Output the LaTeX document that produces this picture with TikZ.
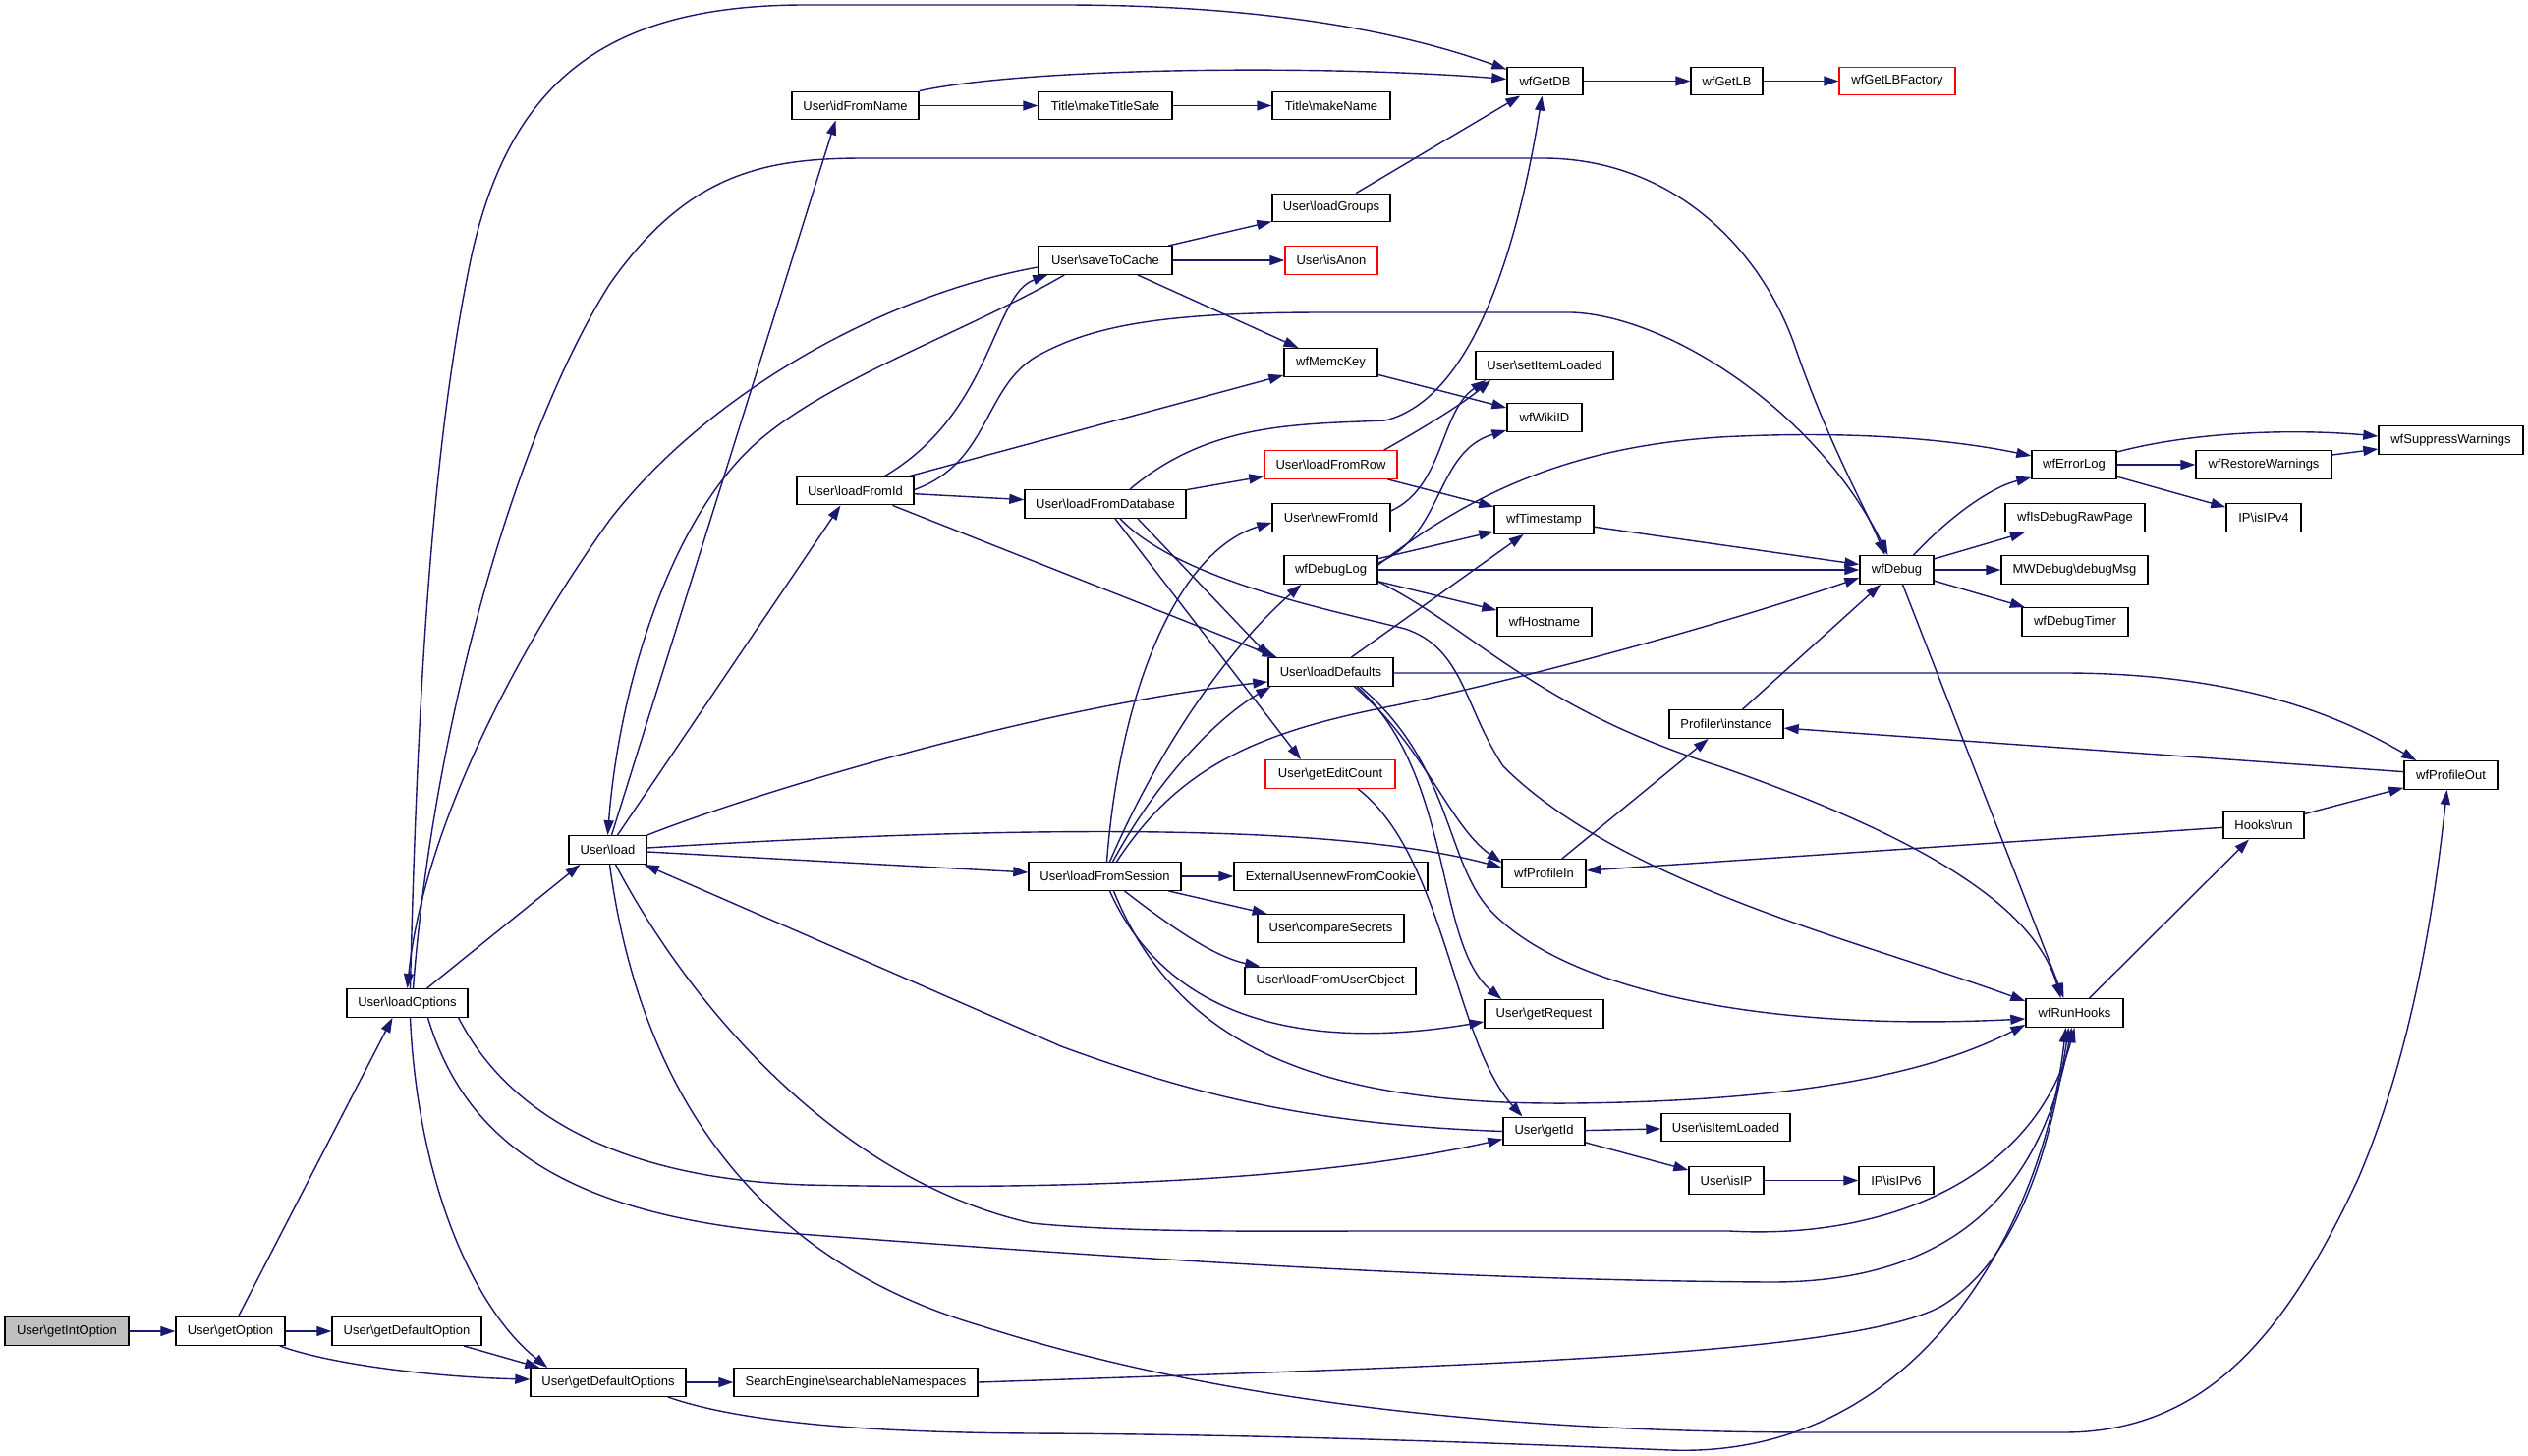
\documentclass[tikz,border=0pt]{standalone}
\usepackage{fontspec}
\setmainfont{Liberation Sans}
\usetikzlibrary{arrows.meta}
\definecolor{edgeblue}{HTML}{191970}
\newcommand{\bsl}{\textbackslash{}}
\begin{document}
\begin{tikzpicture}[x=1pt,y=-1pt,
  nbox/.style={draw=black, line width=1.4pt, fill=white, minimum height=28.5pt, inner sep=0pt, font=\fontsize{13}{15}\selectfont, text=black},
  redbox/.style={nbox, draw=red},
  rootbox/.style={nbox, fill=black!25},
  edg/.style={draw=edgeblue, line width=1.4pt, -{Triangle[length=15pt,width=10pt]}}]
\fill[white] (0,0) rectangle (2573,1482);
\useasboundingbox (0,0) rectangle (2573,1482);
% nodes
\node[rootbox,minimum width=126pt] (gio) at (68,1355) {User\bsl getIntOption};
\node[nbox,minimum width=111pt] (go) at (234.5,1355) {User\bsl getOption};
\node[nbox,minimum width=152pt] (gdo) at (414,1355) {User\bsl getDefaultOption};
\node[nbox,minimum width=158pt] (gdos) at (619,1407) {User\bsl getDefaultOptions};
\node[nbox,minimum width=248pt] (sns) at (871,1407) {SearchEngine\bsl searchableNamespaces};
\node[nbox,minimum width=123pt] (lo) at (414.5,1021) {User\bsl loadOptions};
\node[nbox,minimum width=79pt] (ld) at (618.5,865) {User\bsl load};
\node[nbox,minimum width=129pt] (ifn) at (870.5,107.5) {User\bsl idFromName};
\node[nbox,minimum width=136pt] (mts) at (1125,107.5) {Title\bsl makeTitleSafe};
\node[nbox,minimum width=120pt] (mn) at (1355,107.5) {Title\bsl makeName};
\node[nbox,minimum width=77pt] (db) at (1572.5,82.5) {wfGetDB};
\node[nbox,minimum width=73pt] (lb) at (1757.5,82.5) {wfGetLB};
\node[redbox,minimum width=118pt] (lbf) at (1931,82.5) {wfGetLBFactory};
\node[nbox,minimum width=120pt] (lg) at (1355,211.5) {User\bsl loadGroups};
\node[nbox,minimum width=136pt] (stc) at (1125,265) {User\bsl saveToCache};
\node[redbox,minimum width=94pt] (ia) at (1355,265) {User\bsl isAnon};
\node[nbox,minimum width=95pt] (mk) at (1354.5,369) {wfMemcKey};
\node[nbox,minimum width=140pt] (sil) at (1572,372) {User\bsl setItemLoaded};
\node[nbox,minimum width=76pt] (wid) at (1572,425) {wfWikiID};
\node[redbox,minimum width=135pt] (lfr) at (1354.5,473) {User\bsl loadFromRow};
\node[nbox,minimum width=119pt] (lfi) at (870.5,499.5) {User\bsl loadFromId};
\node[nbox,minimum width=164pt] (lfd) at (1125,513) {User\bsl loadFromDatabase};
\node[nbox,minimum width=120pt] (nfi) at (1355,527) {User\bsl newFromId};
\node[nbox,minimum width=101pt] (ts) at (1571.5,529) {wfTimestamp};
\node[nbox,minimum width=95pt] (dl) at (1354.5,580) {wfDebugLog};
\node[nbox,minimum width=96pt] (hn) at (1572,633) {wfHostname};
\node[nbox,minimum width=127pt] (ldf) at (1354.5,684) {User\bsl loadDefaults};
\node[nbox,minimum width=116pt] (pi) at (1757,737) {Profiler\bsl instance};
\node[redbox,minimum width=132pt] (gec) at (1354,788) {User\bsl getEditCount};
\node[nbox,minimum width=85pt] (pin) at (1571.5,889) {wfProfileIn};
\node[nbox,minimum width=155pt] (lfs) at (1124.5,892) {User\bsl loadFromSession};
\node[nbox,minimum width=197pt] (enc) at (1354.5,892) {ExternalUser\bsl newFromCookie};
\node[nbox,minimum width=149pt] (cs) at (1354.5,945) {User\bsl compareSecrets};
\node[nbox,minimum width=174pt] (lfuo) at (1354,998.5) {User\bsl loadFromUserObject};
\node[nbox,minimum width=121pt] (gr) at (1571.5,1032) {User\bsl getRequest};
\node[nbox,minimum width=99pt] (rh) at (2111.5,1031) {wfRunHooks};
\node[nbox,minimum width=83pt] (gid) at (1571.5,1151.5) {User\bsl getId};
\node[nbox,minimum width=131pt] (iil) at (1756.5,1147.5) {User\bsl isItemLoaded};
\node[nbox,minimum width=76pt] (iip) at (1757,1201.5) {User\bsl isIP};
\node[nbox,minimum width=76pt] (ip6) at (1930,1201.5) {IP\bsl isIPv6};
\node[nbox,minimum width=147pt] (sw) at (2494.5,448) {wfSuppressWarnings};
\node[nbox,minimum width=86pt] (el) at (2111,473) {wfErrorLog};
\node[nbox,minimum width=138pt] (rw) at (2304,473) {wfRestoreWarnings};
\node[nbox,minimum width=142pt] (idr) at (2112,527) {wfIsDebugRawPage};
\node[nbox,minimum width=76pt] (ip4) at (2304,527) {IP\bsl isIPv4};
\node[nbox,minimum width=75pt] (dbg) at (1930.5,580) {wfDebug};
\node[nbox,minimum width=149pt] (dm) at (2111.5,580) {MWDebug\bsl debugMsg};
\node[nbox,minimum width=108pt] (dt) at (2112,633) {wfDebugTimer};
\node[nbox,minimum width=95pt] (po) at (2494.5,789) {wfProfileOut};
\node[nbox,minimum width=82pt] (hr) at (2304,839.5) {Hooks\bsl run};
% edges
\draw[edg] (gio) -- (go);
\draw[edg] (go) -- (gdo);
\draw[edg] ([xshift=-6pt]go.south east) .. controls (340,1390) and (450,1402) .. ([yshift=3pt]gdos.west);
\draw[edg] ([xshift=8pt]go.north) -- ([xshift=-15pt]lo.south);
\draw[edg] ([xshift=58pt]gdo.south) -- ([xshift=10pt]gdos.north west);
\draw[edg] ([xshift=3pt]lo.south) .. controls (425,1200) and (480,1330) .. ([xshift=18pt]gdos.north west);
\draw[edg] (gdos) -- (sns);
\draw[edg] ([xshift=-19pt]gdos.south east) .. controls (760,1450) and (900,1458) .. (1050,1459) .. controls (1300,1460) and (1550,1470) .. (1700,1476) .. controls (1950,1485) and (2080,1250) .. ([xshift=-9pt]rh.south);
\draw[edg] (sns.east) .. controls (1500,1390) and (1880,1380) .. (1975,1330) .. controls (2060,1280) and (2090,1150) .. ([xshift=-6pt]rh.south);
\draw[edg] ([xshift=20pt]lo.north) -- ([xshift=-28pt]ld.south);
\draw[edg] ([xshift=3pt]lo.north) .. controls (425,700) and (440,450) .. (480,260) .. controls (520,80) and (620,5) .. (820,5) -- (1080,5) .. controls (1280,5) and (1420,30) .. ([yshift=-3pt]db.north west);
\draw[edg] ([xshift=6pt]lo.north) .. controls (440,750) and (520,450) .. (620,290) .. controls (700,175) and (780,161) .. (880,161) -- (1570,161) .. controls (1700,161) and (1790,250) .. (1826,350) .. controls (1860,450) and (1900,520) .. ([xshift=-12pt]dbg.north);
\draw[edg] ([xshift=-10pt]lo.south east) .. controls (520,1140) and (640,1200) .. (820,1206) .. controls (1100,1212) and (1350,1200) .. ([yshift=-8pt]gid.west);
\draw[edg] ([xshift=21pt]lo.south) .. controls (470,1150) and (560,1235) .. (800,1255) .. controls (1200,1285) and (1500,1303) .. (1800,1305) .. controls (2000,1306) and (2080,1200) .. ([xshift=-3pt]rh.south);
% load
\draw[edg] ([xshift=4pt]ld.north) -- ([xshift=-20pt]ifn.south);
\draw[edg] ([xshift=10pt]ld.north) -- ([xshift=-15pt]lfi.south);
\draw[edg] (ld.north east) .. controls (760,810) and (1050,720) .. ([yshift=5pt]ldf.south west);
\draw[edg] ([yshift=-2pt]ld.east) -- ([yshift=4pt]lfs.west);
\draw[edg] ([yshift=2pt]ld.east) .. controls (1000,842) and (1350,835) .. ([yshift=6pt]pin.west);
\draw[edg] ([xshift=8pt]ld.south) .. controls (700,1020) and (850,1200) .. (1050,1245) .. controls (1150,1255) and (1300,1253) .. (1400,1253) -- (1760,1253) .. controls (1920,1262) and (2070,1200) .. (rh.south);
\draw[edg] ([xshift=2pt]ld.south) .. controls (650,1100) and (760,1280) .. (1000,1350) .. controls (1250,1430) and (1550,1458) .. (1850,1458) -- (2100,1458) .. controls (2250,1458) and (2330,1350) .. (2400,1200) .. controls (2460,1060) and (2480,900) .. ([xshift=-4pt]po.south);
% saveToCache
\draw[edg] ([xshift=27pt]stc.south west) .. controls (980,340) and (830,390) .. (760,460) .. controls (680,540) and (630,700) .. (ld.north);
\draw[edg] ([yshift=-7pt]stc.west) .. controls (900,300) and (720,400) .. (620,530) .. controls (520,670) and (430,850) .. (lo.north);
\draw[edg] (stc) -- (lg);
\draw[edg] (stc) -- (ia);
\draw[edg] (stc) -- (mk);
% loadFromId
\draw[edg] (lfi) -- (lfd);
\draw[edg] (lfi) -- (mk);
\draw[edg] ([xshift=38pt]lfi.south) -- ([xshift=-55pt]ldf.north);
\draw[edg] ([xshift=30pt]lfi.north) .. controls (1010,420) and (1010,300) .. ([xshift=10pt]stc.south west);
\draw[edg] ([yshift=1pt]lfi.east) .. controls (1010,470) and (1000,390) .. (1060,360) .. controls (1120,328) and (1200,318) .. (1350,318) -- (1600,318) .. controls (1700,322) and (1850,420) .. ([xshift=-9pt]dbg.north);
% loadFromDatabase
\draw[edg] (lfd) -- (lfr);
\draw[edg] ([xshift=25pt]lfd.north) .. controls (1230,430) and (1320,432) .. (1410,428) .. controls (1500,405) and (1545,250) .. ([xshift=-3pt]db.south);
\draw[edg] ([xshift=33pt]lfd.south) -- ([xshift=-62pt]ldf.north);
\draw[edg] ([xshift=10pt]lfd.south) -- ([xshift=-30pt]gec.north);
\draw[edg] ([xshift=15pt]lfd.south) .. controls (1200,590) and (1350,620) .. (1430,640) .. controls (1490,660) and (1490,720) .. (1530,780) .. controls (1650,900) and (1900,960) .. ([yshift=-3pt]rh.north west);
% upper part
\draw[edg] (lg) -- (db);
\draw[edg] (ifn.north east) .. controls (1050,68) and (1350,66) .. ([yshift=2pt]db.west);
\draw[edg] (ifn) -- (mts);
\draw[edg] (mts) -- (mn);
\draw[edg] (db) -- (lb);
\draw[edg] (lb) -- (lbf);
\draw[edg] (mk) -- (wid);
\draw[edg] ([xshift=-14pt]lfr.north east) .. controls (1450,435) and (1490,410) .. ([xshift=16pt]sil.south west);
\draw[edg] (lfr) -- (ts);
\draw[edg] ([yshift=7pt]nfi.east) .. controls (1470,495) and (1465,420) .. ([xshift=11pt]sil.south west);
% wfDebugLog
\draw[edg] (dl) -- (ts);
\draw[edg] ([yshift=7pt]dl.east) .. controls (1470,545) and (1460,460) .. ([yshift=2pt]wid.south west);
\draw[edg] ([yshift=5pt]dl.east) .. controls (1500,500) and (1600,455) .. (1750,445) .. controls (1900,437) and (2000,450) .. ([yshift=9pt]el.west);
\draw[edg] (dl) -- (dbg);
\draw[edg] (dl) -- (hn);
\draw[edg] ([yshift=-12pt]dl.east) .. controls (1500,640) and (1560,720) .. (1750,780) .. controls (1950,850) and (2070,920) .. ([xshift=-14pt]rh.north);
\draw[edg] (ts) -- (dbg);
% loadDefaults
\draw[edg] (ldf) -- (ts);
\draw[edg] ([yshift=-1pt]ldf.east) -- (2100,685) .. controls (2300,685) and (2400,740) .. ([xshift=13pt]po.north west);
\draw[edg] ([xshift=24pt]ldf.south) .. controls (1450,760) and (1475,840) .. ([yshift=-4pt]pin.north west);
\draw[edg] ([xshift=27pt]ldf.south) .. controls (1480,790) and (1460,960) .. ([xshift=18pt]gr.north west);
\draw[edg] ([xshift=30pt]ldf.south) .. controls (1480,780) and (1470,880) .. (1520,930) .. controls (1600,1010) and (1800,1050) .. ([yshift=-6pt]rh.west);
\draw[edg] ([xshift=28pt]gec.south) .. controls (1470,870) and (1480,1060) .. ([xshift=-22pt]gid.north);
% getId
\draw[edg] (gid) -- (iil);
\draw[edg] (gid) -- (iip);
\draw[edg] (gid.west) .. controls (1350,1145) and (1230,1120) .. (1080,1065) -- ([xshift=-3pt]ld.south east);
\draw[edg] (iip) -- (ip6);
% loadFromSession
\draw[edg] (lfs) -- (enc);
\draw[edg] (lfs) -- (cs);
\draw[edg] ([xshift=20pt]lfs.south) .. controls (1200,950) and (1240,975) .. ([xshift=16pt]lfuo.north west);
\draw[edg] ([xshift=5pt]lfs.south) .. controls (1180,1020) and (1300,1075) .. ([yshift=-8pt]gr.west);
\draw[edg] ([xshift=9pt]lfs.south) .. controls (1200,1070) and (1350,1125) .. (1600,1123) .. controls (1800,1121) and (1950,1100) .. ([yshift=3pt]rh.south west);
\draw[edg] ([xshift=2pt]lfs.north) .. controls (1140,700) and (1200,560) .. ([yshift=-5pt]nfi.west);
\draw[edg] ([xshift=5pt]lfs.north) .. controls (1180,760) and (1250,660) .. ([xshift=-30pt]dl.south);
\draw[edg] ([xshift=8pt]lfs.north) .. controls (1180,790) and (1240,730) .. ([xshift=3pt]ldf.south west);
\draw[edg] ([xshift=12pt]lfs.north) .. controls (1200,780) and (1280,745) .. (1420,718) .. controls (1600,680) and (1800,620) .. ([yshift=-8pt]dbg.west);
% wfDebug
\draw[edg] (dbg) -- (idr);
\draw[edg] (dbg) -- (dm);
\draw[edg] (dbg) -- (dt);
\draw[edg] ([xshift=17pt]dbg.north) .. controls (1990,520) and (2030,495) .. ([yshift=2pt]el.south west);
\draw[edg] ([xshift=6pt]dbg.south) -- ([xshift=-11pt]rh.north);
% wfErrorLog
\draw[edg] ([yshift=-2pt]el.north east) .. controls (2230,440) and (2330,436) .. ([yshift=4pt]sw.west);
\draw[edg] (el) -- (rw);
\draw[edg] (el) -- (ip4);
\draw[edg] ([yshift=10pt]rw.east) -- ([yshift=-9pt]sw.west);
% profiling and hooks
\draw[edg] (pin) -- (pi);
\draw[edg] (po) -- (pi);
\draw[edg] (pi) -- (dbg);
\draw[edg] (hr) -- (po);
\draw[edg] (hr) -- (pin);
\draw[edg] (rh) -- (hr);
\end{tikzpicture}
\end{document}
